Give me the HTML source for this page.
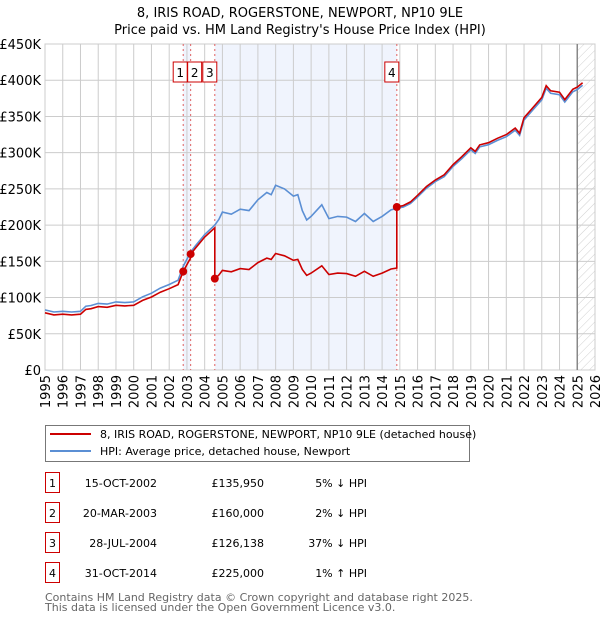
<!DOCTYPE html>
<html><head><meta charset="utf-8"><style>
body{margin:0;background:#fff;font-family:"DejaVu Sans","Liberation Sans",sans-serif;}
#wrap{position:relative;width:600px;height:620px;overflow:hidden;}
svg text{font-family:"DejaVu Sans","Liberation Sans",sans-serif;}
</style></head><body><div id="wrap">
<svg id="chart" width="600" height="620"></svg>
</div>
<script>
const hpiYears=[1995,1995.5,1996,1996.5,1997,1997.3,1997.6,1998,1998.5,1999,1999.5,2000,2000.5,2001,2001.5,2002,2002.5,2002.79,2003.21,2003.5,2004,2004.57,2004.8,2005,2005.5,2006,2006.5,2007,2007.5,2007.75,2008,2008.5,2009,2009.25,2009.5,2009.75,2010,2010.6,2011,2011.5,2012,2012.5,2013,2013.5,2014,2014.5,2014.83,2015.2,2015.6,2016,2016.5,2017,2017.5,2018,2018.5,2019,2019.25,2019.5,2020,2020.5,2021,2021.5,2021.75,2022,2022.5,2023,2023.25,2023.5,2024,2024.3,2024.75,2025,2025.3];
const hpiValues=[83,80,81,80,81,88,89,92,91,94,93,94,101,106,113,118,124,143,163,172,187,200,208,218,215,222,220,235,245,242,255,250,240,242,220,207,212,228,209,212,211,205,216,205,212,221,223,225,230,239,251,260,267,281,292,304,299,308,311,317,322,331,324,345,359,373,389,382,380,370,384,387,393];
const saleLabels=["1","2","3","4"];
const saleYears=[2002.79,2003.21,2004.57,2014.83];
const salePrices=[135.95,160,126.138,225];
const yTicks=[0,50,100,150,200,250,300,350,400,450];
const yTickLabels=["£0","£50K","£100K","£150K","£200K","£250K","£300K","£350K","£400K","£450K"];
const xTicks=[1995,1996,1997,1998,1999,2000,2001,2002,2003,2004,2005,2006,2007,2008,2009,2010,2011,2012,2013,2014,2015,2016,2017,2018,2019,2020,2021,2022,2023,2024,2025,2026];
const tableDates=["15-OCT-2002","20-MAR-2003","28-JUL-2004","31-OCT-2014"];
const tablePrices=["£135,950","£160,000","£126,138","£225,000"];
const tablePct=["5% ↓ HPI","2% ↓ HPI","37% ↓ HPI","1% ↑ HPI"];

const NS="http://www.w3.org/2000/svg";
const svg=document.getElementById('chart');
const X0=45,X1=595,Y0=370,Y1=44;
const xs=v=>X0+(v-1995)/(2026-1995)*(X1-X0);
const ys=v=>Y0-v/450*(Y0-Y1);
function el(t,a,p){const e=document.createElementNS(NS,t);for(const k in a)e.setAttribute(k,a[k]);(p||svg).appendChild(e);return e;}
function hpiAt(t){for(let i=0;i<hpiYears.length-1;i++){if(t>=hpiYears[i]&&t<=hpiYears[i+1]){const f=(t-hpiYears[i])/(hpiYears[i+1]-hpiYears[i]);return hpiValues[i]+f*(hpiValues[i+1]-hpiValues[i]);}}return hpiValues[hpiValues.length-1];}

let t=el('text',{x:300,y:17,'text-anchor':'middle','font-size':13,fill:'#000'});t.textContent="8, IRIS ROAD, ROGERSTONE, NEWPORT, NP10 9LE";

t=el('text',{x:300,y:34,'text-anchor':'middle','font-size':13,fill:'#000'});t.textContent="Price paid vs. HM Land Registry's House Price Index (HPI)";


let r=el('rect',{x:xs(saleYears[2]),y:Y1,width:xs(saleYears[3])-xs(saleYears[2]),height:Y0-Y1,fill:'#f0f4fd'});

r=el('rect',{x:xs(saleYears[0]),y:Y1,width:xs(saleYears[1])-xs(saleYears[0]),height:Y0-Y1,fill:'#f0f4fd'});

const defs=el('defs',{});
const pat=el('pattern',{id:'hatch',width:6,height:6,patternUnits:'userSpaceOnUse',patternTransform:'rotate(45)'},defs);
el('line',{x1:0,y1:0,x2:0,y2:6,stroke:'#d0d0d0','stroke-width':1},pat);
r=el('rect',{x:xs(2025),y:Y1,width:X1-xs(2025),height:Y0-Y1,fill:'url(#hatch)'});


yTicks.forEach((v,i)=>{
 const l=el('line',{x1:X0,x2:X1,y1:ys(v),y2:ys(v),stroke:'#cccccc','stroke-width':1});
 
 const tx=el('text',{x:X0-4,y:ys(v)+5,'text-anchor':'end','font-size':13,fill:'#000'});tx.textContent=yTickLabels[i];
 
});
xTicks.forEach(v=>{
 const l=el('line',{x1:xs(v),x2:xs(v),y1:Y1,y2:Y0,stroke:'#cccccc','stroke-width':1});
 
 const tx=el('text',{x:0,y:0,'text-anchor':'end','font-size':13,fill:'#000',transform:`translate(${xs(v)+5},${Y0+5}) rotate(-90)`});tx.textContent=v;
 
});
let fr=el('rect',{x:X0,y:Y1,width:X1-X0,height:Y0-Y1,fill:'none',stroke:'#cccccc'});

let nl=el('line',{x1:xs(2025),x2:xs(2025),y1:Y1,y2:Y0,stroke:'#888','stroke-width':1.5});


saleYears.forEach(s=>{
 const l=el('line',{x1:xs(s),x2:xs(s),y1:Y1,y2:Y0,stroke:'#e06060','stroke-width':1,'stroke-dasharray':'2,3'});
 
});

let d=hpiYears.map((y,i)=>(i?'L':'M')+xs(y).toFixed(1)+','+ys(hpiValues[i]).toFixed(1)).join('');
let p=el('path',{d:d,fill:'none',stroke:'#5b8fd4','stroke-width':1.6});


function ratioAt(tt){let k=0;for(let i=0;i<saleYears.length;i++)if(tt>=saleYears[i])k=i;return salePrices[k]/hpiAt(saleYears[k]);}
let seq=[];
hpiYears.forEach((y,i)=>seq.push({t:y,v:hpiValues[i]*ratioAt(y)}));
saleYears.forEach((s,j)=>{ if(j>0){const prevRatio=salePrices[j-1]/hpiAt(saleYears[j-1]);seq.push({t:s-0.0001,v:hpiAt(s)*prevRatio});} seq.push({t:s,v:salePrices[j]});});
seq.sort((a,b)=>a.t-b.t);
let rd=seq.map((q,i)=>(i?'L':'M')+xs(q.t).toFixed(1)+','+ys(q.v).toFixed(1)).join('');
p=el('path',{d:rd,fill:'none',stroke:'#cc0000','stroke-width':1.6});


const boxOffsets=[-10,-3,-12,-12];
saleYears.forEach((s,i)=>{
 const c=el('circle',{cx:xs(s),cy:ys(salePrices[i]),r:4,fill:'#cc0000'});
 
 const bx=xs(s)+boxOffsets[i];
 const g=el('g',{});
 
 el('rect',{x:bx,y:62,width:14,height:20,fill:'#fff',stroke:'#cc0000','stroke-width':1},g);
 const tx=el('text',{x:bx+7,y:77,'text-anchor':'middle','font-size':12,fill:'#000'},g);tx.textContent=saleLabels[i];
});

const lg=el('g',{});
el('rect',{x:45.5,y:425.5,width:424,height:36,fill:'#fff',stroke:'#777'},lg);
el('line',{x1:50,x2:91,y1:434,y2:434,stroke:'#cc0000','stroke-width':2},lg);
el('line',{x1:50,x2:91,y1:451,y2:451,stroke:'#5b8fd4','stroke-width':2},lg);
t=el('text',{x:100,y:438,'font-size':11,fill:'#000'},lg);t.textContent="8, IRIS ROAD, ROGERSTONE, NEWPORT, NP10 9LE (detached house)";

t=el('text',{x:100,y:455,'font-size':11,fill:'#000'},lg);t.textContent="HPI: Average price, detached house, Newport";


tableDates.forEach((dt,i)=>{
 const y=483+i*30;
 const g=el('g',{});
 el('rect',{x:45.5,y:y-10.5,width:14,height:20,fill:'#fff',stroke:'#cc0000'},g);
 let a=el('text',{x:52.5,y:y+4,'text-anchor':'middle','font-size':11},g);a.textContent=saleLabels[i];
 a=el('text',{x:157,y:y+4,'text-anchor':'end','font-size':11},g);a.textContent=dt;
 a=el('text',{x:264,y:y+4,'text-anchor':'end','font-size':11},g);a.textContent=tablePrices[i];
 a=el('text',{x:367,y:y+4,'text-anchor':'end','font-size':11},g);a.textContent=tablePct[i];
});
t=el('text',{x:45,y:601,'font-size':11,fill:'#666'});t.textContent="Contains HM Land Registry data © Crown copyright and database right 2025.";

t=el('text',{x:45,y:611,'font-size':11,fill:'#666'});t.textContent="This data is licensed under the Open Government Licence v3.0.";

</script></body></html>
